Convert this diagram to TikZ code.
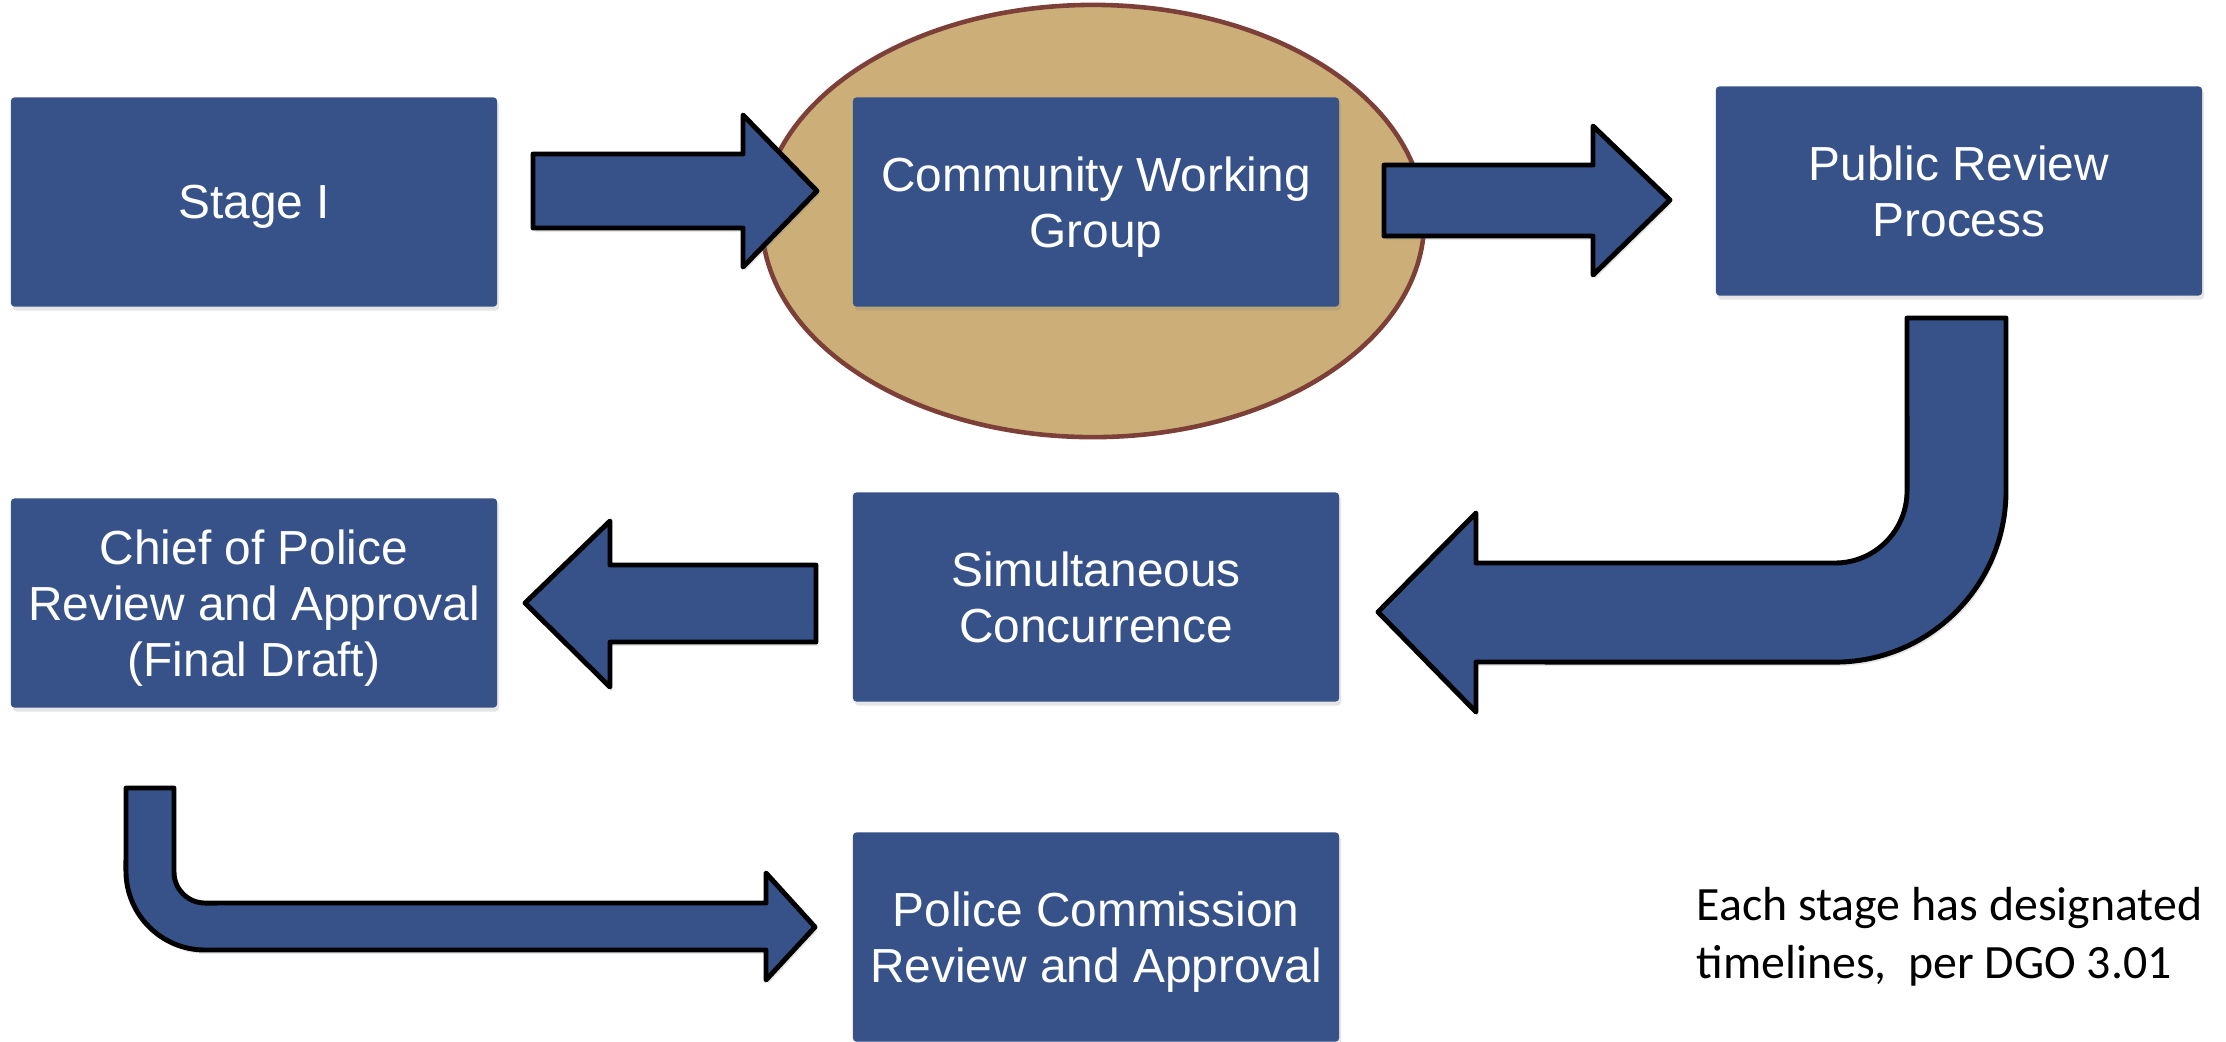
\documentclass[tikz,border=0pt]{standalone}
\usepackage{amsmath}
\usepackage{fontspec}
\setmainfont{Liberation Sans}
\newfontfamily\notefont{Carlito}
\usetikzlibrary{shadows}

\definecolor{boxblue}{RGB}{54,82,136}
\definecolor{groupTan}{RGB}{203,174,120}
\definecolor{rimRed}{RGB}{124,64,56}

\tikzset{
  stagebox/.style={fill=boxblue, text=white, minimum width=4.86cm, minimum height=2.09cm,
    rounded corners=1pt, align=center, font=\fontsize{13.6}{15.9}\selectfont,
    drop shadow={shadow xshift=0.02cm, shadow yshift=-0.04cm, opacity=0.2}},
  blockarrow/.style={fill=boxblue, draw=black, line width=1.4pt, line join=round,
    drop shadow={shadow xshift=0.02cm, shadow yshift=-0.04cm, opacity=0.2}},
}

\begin{document}
\begin{tikzpicture}[x=0.01cm, y=-0.01cm]
    \useasboundingbox (0,0) rectangle (2226,1041);
    \fill[white] (0,0) rectangle (2226,1041);

    \draw[fill=groupTan, draw=rimRed, line width=1.3pt] (1093,221) ellipse [x radius=3.31cm, y radius=2.16cm];

    \node[stagebox] (stage1) at (254,202) {\smash[b]{Stage I}};
    \node[stagebox] (working) at (1096,202) {Community Working\\\smash[b]{Group}};
    \node[stagebox] (review) at (1959,191) {Public Review\\Process};
    \node[stagebox] (concur) at (1096,597) {Simultaneous\\Concurrence};
    \node[stagebox] (chief) at (254,603) {Chief of Police\\Review and Approval\\\smash[b]{(Final Draft)}};
    \node[stagebox] (commission) at (1096,937) {Police Commission\\\smash[b]{Review and Approval}};

    \draw[blockarrow] (533,154) -- (743,154) -- (743,115) -- (817,191) -- (743,267) -- (743,228) -- (533,228) -- cycle;
    \draw[blockarrow] (1384,165) -- (1593,165) -- (1593,126) -- (1670,200) -- (1593,275) -- (1593,236) -- (1384,236) -- cycle;
    \draw[blockarrow] (1907,318) -- (2006,318) -- (2006,491) arc[start angle=0, end angle=-90, radius=1.71cm]
      -- (1476,662) -- (1476,712) -- (1378,612) -- (1476,513) -- (1476,563) -- (1835,563)
      arc[start angle=-90, end angle=0, radius=0.72cm] -- cycle;
    \draw[blockarrow] (816,565) -- (610,565) -- (610,521) -- (525,603) -- (610,687) -- (610,642) -- (816,642) -- cycle;
    \draw[blockarrow] (126,788) -- (174,788) -- (174,872) arc[start angle=180, end angle=270, radius=0.31cm]
      -- (766,903) -- (766,873) -- (815,927) -- (766,980) -- (766,950) -- (205,950)
      arc[start angle=270, end angle=180, radius=0.79cm] -- cycle;

    \node[anchor=west, align=left, inner sep=0pt, font=\notefont\fontsize{13.6}{16.5}\selectfont] (note) at (1696,937)
      {Each stage has designated\\timelines,~ per DGO 3.01};
\end{tikzpicture}
\end{document}
